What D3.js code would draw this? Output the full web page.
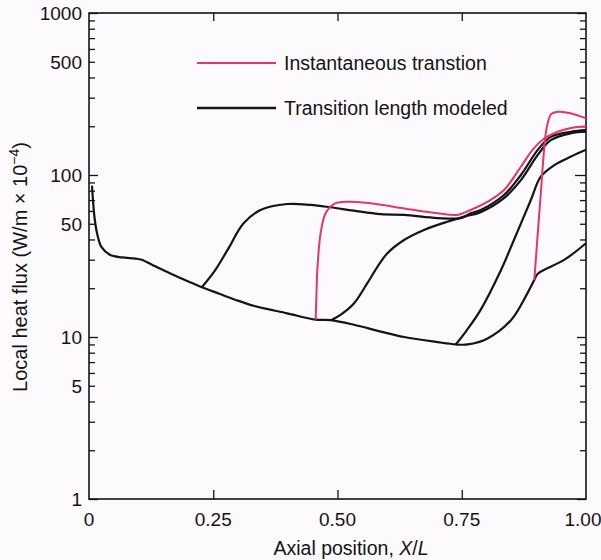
<!DOCTYPE html>
<html>
<head>
<meta charset="utf-8">
<script src="https://cdn.jsdelivr.net/npm/d3@7"></script>
<style>
    html, body { margin: 0; padding: 0; background: #fdfafd; }
    svg { display: block; font-family: "Liberation Sans", Arial, sans-serif; }
</style>
</head>
<body>
<svg id="chart" width="601" height="560"></svg>
<script>
// axis ticks
const xTickValues = [0, 0.25, 0.5, 0.75, 1.0];
const xTickLabels = ['0', '0.25', '0.50', '0.75', '1.00'];
const yLabelValues = [1, 5, 10, 50, 100, 500, 1000];
const yDecades = [1, 10, 100, 1000];

// laminar curve, continued past X/L = 0.74
const laminar = [
    [0.006, 86], [0.008, 70], [0.011, 55], [0.016, 44], [0.025, 36], [0.042, 32.2],
    [0.066, 31.0], [0.093, 30.5], [0.106, 30.0], [0.133, 27.3], [0.167, 24.4],
    [0.200, 22.0], [0.227, 20.3], [0.262, 18.5], [0.294, 17.0], [0.331, 15.6],
    [0.399, 14.0], [0.456, 12.8], [0.486, 12.7], [0.533, 11.9], [0.587, 10.8],
    [0.634, 10.0], [0.701, 9.3], [0.738, 9.0], [0.762, 9.0], [0.802, 9.8],
    [0.849, 12.7], [0.882, 18.6], [0.896, 22.5], [0.903, 24.6], [0.956, 29.9], [1.0, 37.9]
];

// transition length modeled (black)
const transitionA = [
    [0.227, 20.3], [0.254, 25.9], [0.280, 35.0], [0.311, 50.3], [0.345, 60.8],
    [0.399, 66.2], [0.446, 65.4], [0.486, 63.2], [0.533, 60.2], [0.587, 57.3],
    [0.634, 56.7], [0.701, 54.2], [0.748, 54.2], [0.768, 58.0], [0.788, 60.8],
    [0.835, 75.3], [0.869, 100], [0.903, 143], [0.929, 172], [0.970, 185], [1.0, 189]
];
const transitionC = [
    [0.487, 12.7], [0.506, 13.7], [0.533, 16.1], [0.560, 21.5], [0.580, 27.0],
    [0.600, 32.8], [0.634, 39.7], [0.674, 45.8], [0.721, 51.5], [0.755, 55.3],
    [0.788, 59.0], [0.835, 72], [0.869, 93], [0.903, 133], [0.929, 164],
    [0.970, 181], [1.0, 185]
];
const transitionD = [
    [0.738, 9.0], [0.760, 11.0], [0.788, 14.7], [0.829, 25.9], [0.855, 39.7],
    [0.889, 70.1], [0.909, 97.6], [0.936, 115], [0.970, 130], [1.0, 143]
];

// instantaneous transition (red)
const instantB = [
    [0.456, 12.8], [0.458, 20.0], [0.459, 24.7], [0.466, 43.6], [0.476, 58.0],
    [0.4925, 66.2], [0.520, 68.4], [0.5665, 66.9], [0.634, 62.2], [0.701, 58.0],
    [0.741, 56.7], [0.768, 60.8], [0.802, 68.4], [0.835, 80.8], [0.869, 112.5],
    [0.8925, 143], [0.916, 168], [0.943, 185], [0.970, 195], [1.0, 200]
];
const instantE = [
    [0.896, 22.5], [0.908, 70], [0.919, 181], [0.924, 215], [0.930, 238],
    [0.946, 246], [0.970, 240], [1.0, 224]
];

const legendLabels = ['Instantaneous transtion', 'Transition length modeled'];

const red = '#e5356a';
const ink = '#141414';

const margin = { left: 89, right: 15, top: 13, bottom: 61 };
const width = 601, height = 560;

const svg = d3.select('#chart');

const x = d3.scaleLinear()
    .domain([0, 1])
    .range([margin.left, width - margin.right]);

const y = d3.scaleLog()
    .domain([1, 1000])
    .range([height - margin.bottom, margin.top]);

// minor tick positions on each decade
const yMinor = [];
yDecades.slice(0, -1).forEach(d => {
    for (let k = 2; k <= 9; k++) yMinor.push(k * d);
});

const tickLen = v => yDecades.includes(v) ? 9 : 6;

// left axis
svg.append('g')
    .attr('transform', `translate(${margin.left},0)`)
    .call(d3.axisRight(y).tickValues(yDecades.concat(yMinor)).tickSize(6).tickFormat(''))
    .call(g => g.selectAll('.tick line').attr('x2', d => tickLen(d)).attr('stroke', ink).attr('stroke-width', 1.3))
    .call(g => g.select('.domain').remove());

svg.append('g')
    .selectAll('text')
    .data(yLabelValues)
    .join('text')
    .attr('x', margin.left - 7)
    .attr('y', d => y(d))
    .attr('dy', '0.36em')
    .attr('text-anchor', 'end')
    .attr('font-size', 19)
    .attr('fill', ink)
    .text(d => d);

// right axis
svg.append('g')
    .attr('transform', `translate(${width - margin.right},0)`)
    .call(d3.axisLeft(y).tickValues(yDecades.concat(yMinor)).tickSize(6).tickFormat(''))
    .call(g => g.selectAll('.tick line').attr('x2', d => -tickLen(d) - (d === 100 ? 2 : 0)).attr('stroke', ink).attr('stroke-width', 1.3))
    .call(g => g.select('.domain').remove());

// bottom and top ticks
const inner = xTickValues.slice(1, -1);
svg.append('g')
    .attr('transform', `translate(0,${height - margin.bottom})`)
    .call(d3.axisTop(x).tickValues(inner).tickSize(9).tickFormat(''))
    .call(g => g.selectAll('.tick line').attr('stroke', ink).attr('stroke-width', 1.3))
    .call(g => g.select('.domain').remove());

svg.append('g')
    .attr('transform', `translate(0,${margin.top})`)
    .call(d3.axisBottom(x).tickValues(inner).tickSize(8).tickFormat(''))
    .call(g => g.selectAll('.tick line').attr('stroke', ink).attr('stroke-width', 1.3))
    .call(g => g.select('.domain').remove());

svg.append('g')
    .selectAll('text')
    .data(xTickValues)
    .join('text')
    .attr('x', (d, i) => x(d) - (i === xTickValues.length - 1 ? 3 : 0))
    .attr('y', height - margin.bottom + 27)
    .attr('text-anchor', 'middle')
    .attr('font-size', 19)
    .attr('fill', ink)
    .text((d, i) => xTickLabels[i]);

// frame
svg.append('rect')
    .attr('x', x(0))
    .attr('y', y(1000))
    .attr('width', x(1) - x(0))
    .attr('height', y(1) - y(1000))
    .attr('fill', 'none')
    .attr('stroke', ink)
    .attr('stroke-width', 1.6);

// curves
const line = d3.line()
    .x(d => x(d[0]))
    .y(d => y(d[1]))
    .curve(d3.curveCatmullRom.alpha(0.5));

const plot = svg.append('g');

[laminar, transitionA, transitionC, transitionD].forEach(s => {
    plot.append('path')
        .attr('d', line(s))
        .attr('fill', 'none')
        .attr('stroke', ink)
        .attr('stroke-width', 2.2)
        .attr('stroke-linejoin', 'round');
});

[instantB, instantE].forEach(s => {
    plot.append('path')
        .attr('d', line(s))
        .attr('fill', 'none')
        .attr('stroke', red)
        .attr('stroke-width', 2)
        .attr('stroke-linejoin', 'round');
});

// legend
const legend = svg.append('g');
const legendColors = [red, ink];
legendLabels.forEach((label, i) => {
    const ly = 63 + i * 45;
    legend.append('line')
        .attr('x1', 197).attr('x2', 276)
        .attr('y1', ly).attr('y2', ly)
        .attr('stroke', legendColors[i])
        .attr('stroke-width', i === 0 ? 2 : 2.4);
    legend.append('text')
        .attr('x', 284)
        .attr('y', ly)
        .attr('dy', '0.36em')
        .attr('font-size', 19.5)
        .attr('fill', ink)
        .text(label);
});

// axis titles
const xTitle = svg.append('text')
    .attr('x', 351)
    .attr('y', 555)
    .attr('text-anchor', 'middle')
    .attr('font-size', 19.5)
    .attr('fill', ink);
xTitle.append('tspan').text('Axial position, ');
xTitle.append('tspan').attr('font-style', 'italic').text('X');
xTitle.append('tspan').text('/');
xTitle.append('tspan').attr('font-style', 'italic').text('L');

const yTitle = svg.append('text')
    .attr('transform', 'translate(27,267) rotate(-90)')
    .attr('text-anchor', 'middle')
    .attr('font-size', 20)
    .attr('fill', ink);
yTitle.append('tspan').text('Local heat flux (W/m \u00d7 10');
yTitle.append('tspan').attr('font-size', 14).attr('dy', -8).text('\u22124');
yTitle.append('tspan').attr('dy', 8).text(')');
</script>
</body>
</html>
